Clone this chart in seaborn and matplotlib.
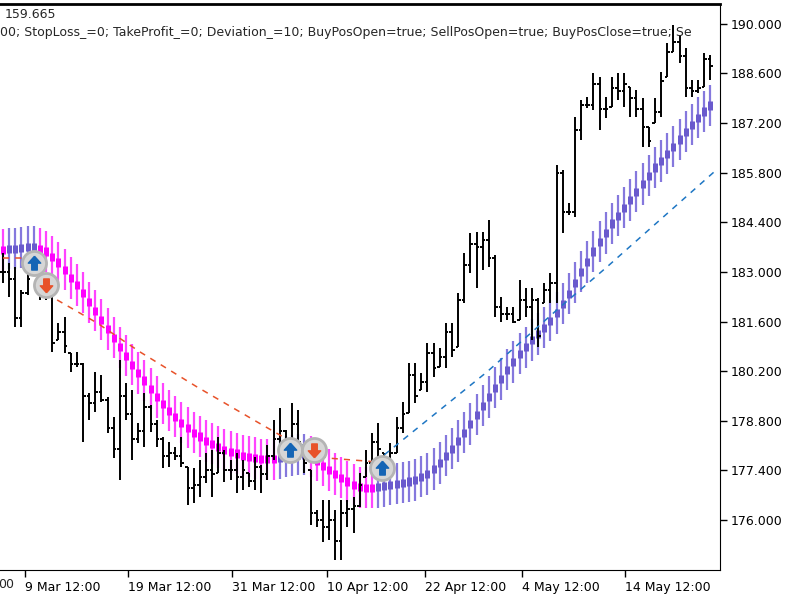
import numpy as np
import pandas as pd
import matplotlib
matplotlib.use('Agg')
import matplotlib.pyplot as plt
from matplotlib.path import Path
import seaborn as sns

# price bars (12h)
highs = [183.54, 183.26, 183.14, 182.49, 183.06, 183.48, 183.06, 182.97, 182.41, 181.56,
         181.73, 180.72, 180.74, 180.43, 179.59, 180.18, 180.09, 179.47, 178.91, 180.52,
         179.87, 179.67, 178.74, 179.59, 179.25, 178.82, 178.35, 178.20, 178.06, 178.35,
         177.50, 177.47, 177.70, 177.89, 177.98, 178.35, 177.98, 177.70, 177.89, 177.70,
         177.33, 177.78, 177.55, 178.12, 178.82, 179.16, 178.54, 179.30, 179.11, 178.06,
         177.41, 176.29, 176.57, 176.57, 176.29, 176.57, 176.57, 176.65, 177.33, 177.98,
         178.46, 178.74, 177.89, 178.18, 178.91, 179.33, 180.43, 180.43, 180.15, 181.00,
         181.00, 180.86, 181.56, 181.56, 182.41, 183.54, 184.10, 184.13, 184.13, 184.47,
         183.48, 182.30, 182.01, 182.01, 182.78, 182.55, 182.55, 182.27, 182.69, 182.97,
         186.02, 185.88, 184.95, 187.38, 187.86, 187.94, 188.62, 188.50, 187.94, 188.50,
         188.62, 188.62, 188.22, 188.14, 187.91, 187.09, 187.91, 188.65, 189.46, 189.97,
         189.69, 189.32, 188.42, 188.42, 189.18, 189.13]
lows = [182.69, 182.30, 181.45, 181.45, 182.35, 183.00, 182.21, 182.21, 180.74, 181.08,
        180.72, 180.18, 180.32, 178.20, 178.82, 179.05, 179.33, 178.46, 177.75, 177.13,
        178.82, 177.70, 178.18, 178.06, 178.49, 178.06, 177.47, 177.50, 177.70, 177.50,
        176.43, 176.48, 176.65, 177.05, 176.65, 177.33, 177.08, 177.13, 176.76, 176.85,
        176.93, 176.85, 176.76, 177.13, 177.70, 178.06, 178.06, 177.98, 177.78, 177.33,
        175.86, 175.81, 175.38, 175.44, 174.87, 174.87, 175.81, 175.64, 176.37, 177.22,
        177.61, 177.78, 177.50, 177.70, 177.89, 178.46, 179.02, 179.30, 179.67, 179.62,
        180.04, 180.32, 180.29, 180.60, 180.88, 182.13, 182.97, 182.55, 183.06, 183.14,
        181.73, 181.59, 181.65, 181.56, 181.65, 181.73, 181.08, 180.88, 182.13, 182.13,
        182.13, 184.10, 184.61, 184.55, 186.73, 187.63, 187.57, 187.01, 187.35, 187.66,
        187.86, 187.66, 187.38, 187.38, 186.53, 186.53, 187.21, 187.38, 188.50, 189.21,
        188.90, 187.94, 187.94, 188.05, 188.22, 188.42]
closes = [183.0, 182.8, 181.7, 182.4, 182.8, 183.2, 182.4, 182.6, 181.0, 181.3,
          180.9, 180.4, 180.4, 179.5, 179.3, 179.6, 179.4, 178.6, 178.0, 179.5,
          179.0, 178.3, 178.5, 179.2, 178.7, 178.3, 177.8, 177.9, 177.8, 177.6,
          176.9, 177.0, 177.2, 177.4, 177.3, 177.9, 177.4, 177.4, 177.2, 177.4,
          177.1, 177.5, 177.3, 177.8, 178.3, 178.5, 178.3, 178.7, 178.2, 177.6,
          176.2, 176.0, 175.8, 176.0, 175.4, 176.2, 176.3, 176.4, 177.0, 177.6,
          178.2, 178.0, 177.6, 177.9, 178.6, 179.0, 180.1, 179.5, 179.9, 180.7,
          180.3, 180.6, 181.3, 180.8, 182.2, 183.2, 183.8, 183.7, 183.9, 183.4,
          182.0, 181.8, 181.8, 181.6, 182.2, 182.0, 182.2, 181.2, 182.5, 182.7,
          185.8, 184.7, 184.7, 187.0, 187.7, 187.7, 188.3, 187.6, 187.6, 188.2,
          188.1, 188.3, 187.9, 187.6, 187.1, 186.7, 187.5, 188.4, 189.2, 189.5,
          189.1, 188.2, 188.1, 188.2, 189.0, 188.8]

# indicator middle line
center = [183.62, 183.65, 183.65, 183.68, 183.71, 183.71, 183.65, 183.57, 183.42, 183.26,
          183.06, 182.83, 182.63, 182.41, 182.15, 181.90, 181.65, 181.39, 181.14, 180.88,
          180.63, 180.38, 180.15, 179.93, 179.70, 179.47, 179.28, 179.08, 178.91, 178.74,
          178.60, 178.46, 178.35, 178.23, 178.15, 178.06, 177.98, 177.92, 177.87, 177.81,
          177.78, 177.75, 177.72, 177.72, 177.72, 177.75, 177.78, 177.81, 177.84, 177.84,
          177.78, 177.67, 177.53, 177.41, 177.30, 177.19, 177.08, 176.99, 176.93, 176.91,
          176.91, 176.93, 176.96, 176.99, 177.02, 177.05, 177.08, 177.13, 177.22, 177.30,
          177.44, 177.61, 177.81, 178.01, 178.23, 178.46, 178.71, 178.97, 179.22, 179.47,
          179.73, 179.98, 180.24, 180.46, 180.69, 180.88, 181.08, 181.25, 181.42, 181.62,
          181.84, 182.10, 182.38, 182.69, 183.00, 183.28, 183.57, 183.85, 184.10, 184.36,
          184.58, 184.81, 185.03, 185.26, 185.48, 185.71, 185.94, 186.13, 186.33, 186.53,
          186.73, 186.95, 187.15, 187.35, 187.52, 187.69]
band_half = 0.58

# trailing stop lines (bar index, price)
red_stop1 = ([0, 4.5], [183.40, 183.40])
red_stop2 = ([8.8, 15.3, 22.3, 31.5, 41.3, 45.5, 52.7, 60.8],
             [182.21, 181.56, 180.74, 179.76, 178.77, 178.35, 177.75, 177.64])
blue_stop1 = ([46, 49], [178.12, 178.12])
blue_stop2 = ([62, 78.7, 90.6, 98.2, 116], [177.84, 180.18, 182.01, 183.14, 185.88])

# trades
buy_x = [5, 46.7, 61.6]
buy_y = [183.26, 177.98, 177.47]
sell_x = [7, 50.6]
sell_y = [182.63, 177.98]

date_pos = [3.6, 20.3, 37.2, 52.7, 68.6, 84.4, 101.1]
date_labels = ['9 Mar 12:00', '19 Mar 12:00', '31 Mar 12:00', '10 Apr 12:00',
               '22 Apr 12:00', '4 May 12:00', '14 May 12:00']
yticks = [176.0, 177.4, 178.8, 180.2, 181.6, 183.0, 184.4, 185.8, 187.2, 188.6, 190.0]

title1 = '159.665'
title2 = ('00; StopLoss_=0; TakeProfit_=0; Deviation_=10; BuyPosOpen=true; '
          'SellPosOpen=true; BuyPosClose=true; Se')

sns.set_style('white')
plt.rcParams['font.family'] = ['DejaVu Sans']

fig = plt.figure(figsize=(8, 6), dpi=100)
ax = fig.add_axes([0, 30 / 600, 720 / 800, 566 / 600])

n = len(highs)
idx = np.arange(n)
c = np.array(center)

# colour by direction of the middle line
cols = []
cur = '#ff00ff'
for i in range(len(c)):
    if i > 0:
        if c[i] > c[i - 1]:
            cur = '#6a5acd'
        elif c[i] < c[i - 1]:
            cur = '#ff00ff'
    cols.append(cur)
ci = np.arange(len(c))
line_cols = ['#ff44ff' if k == '#ff00ff' else '#8578dd' for k in cols]
ax.vlines(ci, c - band_half, c + band_half, colors=line_cols, lw=1.6, zorder=1)
ax.vlines(ci, c - 0.12, c + 0.12, colors=cols, lw=3.6, zorder=2)

# OHLC bars
opens = [closes[0]] + closes[:-1]
opens = np.clip(opens, lows, highs)
ax.vlines(idx, lows, highs, colors='black', lw=1.4, zorder=3)
ax.hlines(opens, idx - 0.42, idx, colors='black', lw=1.4, zorder=3)
ax.hlines(closes, idx, idx + 0.42, colors='black', lw=1.4, zorder=3)

for xs, ys, col in [(red_stop1[0], red_stop1[1], '#e8522a'),
                    (red_stop2[0], red_stop2[1], '#e8522a'),
                    (blue_stop1[0], blue_stop1[1], '#1f77c4'),
                    (blue_stop2[0], blue_stop2[1], '#1f77c4')]:
    df = pd.DataFrame({'x': xs, 'y': ys})
    sns.lineplot(data=df, x='x', y='y', ax=ax, color=col, lw=1.1,
                 dashes=False, linestyle=(0, (4, 4)), zorder=4)

up = Path([(0, 1), (0.85, 0.05), (0.38, 0.05), (0.38, -0.9), (-0.38, -0.9),
           (-0.38, 0.05), (-0.85, 0.05), (0, 1)])
down = Path([(x, -y) for x, y in up.vertices])
ax.scatter(buy_x + sell_x, buy_y + sell_y, s=300, facecolor='#d6d6d6',
           edgecolor='#b4b4b4', lw=2, zorder=5)
ax.scatter(buy_x, buy_y, s=110, marker=up, color='#1565b5', zorder=6)
ax.scatter(sell_x, sell_y, s=110, marker=down, color='#e8522a', zorder=6)

ax.set_xlim(-3 / 6.15, 717 / 6.15)
ax.set_ylim(174.59, 190.56)
ax.set_xlabel('')
ax.set_ylabel('')

ax.yaxis.tick_right()
ax.set_yticks(yticks)
ax.set_yticklabels([f'{v:.3f}' for v in yticks])
ax.set_xticks(date_pos)
ax.set_xticklabels(date_labels, ha='left')
ax.tick_params(axis='both', direction='out', length=5, width=1, colors='black',
               labelsize=9, bottom=True, right=True, left=False, pad=3)
ax.spines['left'].set_visible(False)
ax.spines['top'].set_linewidth(2)
for s in ['right', 'bottom', 'top']:
    ax.spines[s].set_color('black')

ax.text(0.007, 0.981, title1, transform=ax.transAxes, fontsize=9, va='center')
ax.text(0.0, 0.949, title2, transform=ax.transAxes, fontsize=9, va='center')
fig.text(14 / 800, 16 / 600, '00', ha='right', va='center', fontsize=9)

fig.savefig('out.png', dpi=100)
